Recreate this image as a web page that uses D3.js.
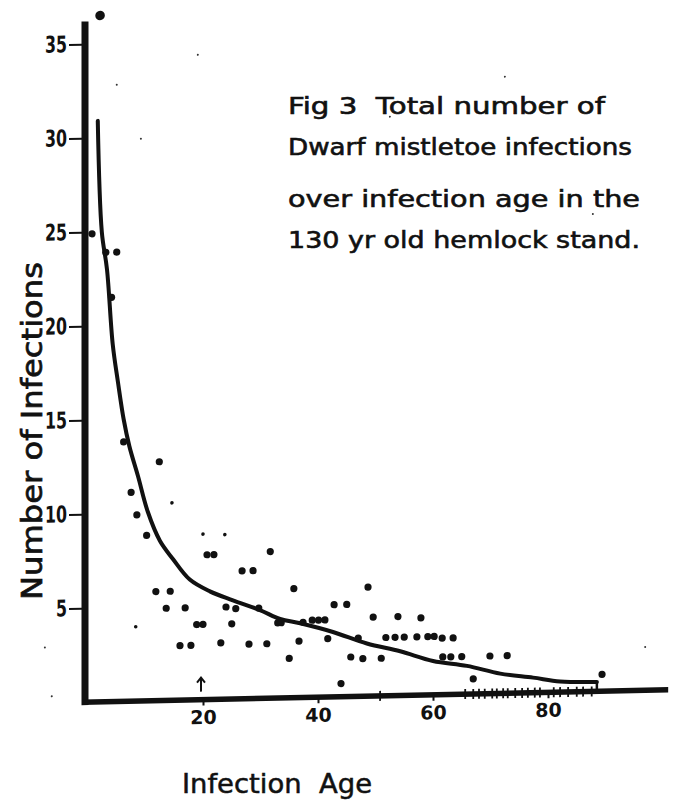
<!DOCTYPE html>
<html>
<head>
<meta charset="utf-8">
<script src="https://cdnjs.cloudflare.com/ajax/libs/d3/7.8.5/d3.min.js"></script>
<style>
body { margin: 0; background: #fff; }
text { font-family: "DejaVu Sans", sans-serif; fill: #111; }
</style>
</head>
<body>
<div id="chart"></div>
<script>
// values (age in years, number of infections)
var dotAges = [2.1, 0.7, 3.1, 5.0, 4.1, 6.2, 12.4, 7.5, 8.5, 10.2, 20.7, 21.9, 26.8, 28.7, 31.7,
    11.8, 14.3, 13.6, 16.9, 18.9, 20.0, 16.0, 17.9, 23.1, 24.0, 25.7, 25.0, 28.0, 31.1, 29.7,
    35.8, 33.0, 33.6, 36.7, 35.0, 37.4, 39.0, 40.1, 41.2, 41.7, 42.8, 45.0, 45.7, 44.0, 48.7,
    47.0, 49.6, 53.9, 57.9, 51.8, 53.4, 55.0, 57.2, 59.1, 60.2, 61.6, 63.5, 47.8, 51.0, 61.7,
    63.1, 65.0, 69.9, 72.9, 67.0, 89.4];
var dotCounts = [36.5, 24.9, 23.9, 23.9, 21.5, 13.8, 12.7, 11.1, 9.9, 8.8, 7.7, 7.7, 6.8, 6.8, 7.8,
    5.8, 5.8, 4.9, 4.9, 4.0, 4.0, 2.9, 2.9, 3.0, 4.9, 4.8, 4.0, 2.9, 2.9, 4.8,
    5.8, 4.0, 4.0, 3.0, 2.1, 4.0, 4.1, 4.1, 4.1, 3.1, 4.9, 4.9, 2.1, 0.7, 5.8,
    3.1, 4.2, 4.2, 4.1, 3.1, 3.1, 3.1, 3.1, 3.1, 3.1, 3.0, 3.0, 2.0, 2.0, 2.0,
    2.0, 2.0, 2.0, 2.0, 0.8, 0.9];

// faint, smaller dots
var smallAges = [8.3, 14.6, 20.0, 23.8];
var smallCounts = [3.95, 10.5, 8.8, 8.75];

// specks on the sheet
var speckAges = [5.0, 9.2, 19.1, 52.5, 72.5, 87.8, 96.9, -7.5, -6.3];
var speckCounts = [32.8, 29.9, 34.3, 30.8, 32.8, 25.4, 2.3, 2.95, 0.34];

// fitted curve
var curveAges = [1.7, 2.4, 3.3, 4.3, 5.2, 6.2, 7.2, 8.7, 10.4, 12.5, 14.8, 17.7, 21.2, 25.2,
    29.9, 33.4, 36.9, 42.6, 48.5, 54.3, 60, 65.9, 71.7, 77.4, 82.1, 88.5];
var curveCounts = [30.9, 25.0, 23.0, 19.0, 17.0, 15.0, 13.55, 11.95, 10.05, 8.5, 7.5, 6.4, 5.75, 5.25,
    4.7, 4.2, 3.95, 3.45, 2.8, 2.35, 1.8, 1.5, 1.05, 0.8, 0.57, 0.5];

// little crosses drawn on the age axis
var axisMarkAges = [50.8, 65.6, 67, 68, 69, 70.3, 71.1, 72.2, 73, 74.3, 75.5, 76.5, 77.7, 78.6,
    81, 82.1, 83.5, 85, 86.1, 87.6];

var xTicks = [20, 40, 60, 80];
var yTicks = [5, 10, 15, 20, 25, 30, 35];
var arrowAge = 20;

var titleLines = ["Fig 3  Total number of", "Dwarf mistletoe infections",
    "over infection age in the", "130 yr old hemlock stand."];

var width = 678,
    height = 808;

var svg = d3.select("#chart")
    .append("svg")
    .attr("width", width)
    .attr("height", height);

var x = d3.scaleLinear().domain([0, 100]).range([88, 663]);
var y = d3.scaleLinear().domain([0, 35]).range([702, 44]);

// the sheet was scanned a bit crooked, the age axis climbs to the right
var plot = svg.append("g")
    .attr("transform", "translate(" + x(0) + "," + y(0) + ") skewY(-1.2) translate(" + (-x(0)) + "," + (-y(0)) + ")");

// y axis
plot.append("line")
    .attr("x1", x(0) - 3).attr("x2", x(0) - 3)
    .attr("y1", y(36.2)).attr("y2", y(0) + 3)
    .attr("stroke", "#111")
    .attr("stroke-width", 7);

var yAxis = plot.append("g")
    .attr("transform", "translate(" + (x(0) - 6) + ",0)")
    .call(d3.axisLeft(y).tickValues(yTicks).tickSize(13).tickPadding(2));
yAxis.select(".domain").remove();
yAxis.selectAll("line").attr("stroke", "#111").attr("stroke-width", 2);
// hand lettered digits are tall and narrow
yAxis.selectAll("text")
    .style("font-family", "DejaVu Sans")
    .style("font-size", "23px")
    .style("font-weight", "bold")
    .attr("textLength", function (d) { return String(d).length * 11; })
    .attr("lengthAdjust", "spacingAndGlyphs")
    .attr("fill", "#111");

// x axis
plot.append("line")
    .attr("x1", x(0) - 6).attr("x2", x(100.9))
    .attr("y1", y(0)).attr("y2", y(0))
    .attr("stroke", "#111")
    .attr("stroke-width", 5.5);

var xAxis = plot.append("g")
    .attr("transform", "translate(0," + (y(0) - 1) + ")")
    .call(d3.axisBottom(x).tickValues(xTicks).tickSize(7).tickPadding(5));
xAxis.select(".domain").remove();
xAxis.selectAll("line").attr("stroke", "#111").attr("stroke-width", 2);
xAxis.selectAll("text")
    .style("font-family", "DejaVu Sans")
    .style("font-size", "19px")
    .style("font-weight", "bold")
    .attr("fill", "#111");

plot.append("g")
    .selectAll("line")
    .data(axisMarkAges)
    .enter()
    .append("line")
    .attr("x1", function (d) { return x(d); })
    .attr("x2", function (d) { return x(d); })
    .attr("y1", y(0) - 5)
    .attr("y2", y(0) + 5)
    .attr("stroke", "#111")
    .attr("stroke-width", 1.8);

// arrow pointing at age 20
var ax = x(arrowAge) - 2;
plot.append("path")
    .attr("d", "M" + ax + "," + (y(0) - 8) + "V" + (y(0) - 22) +
        "M" + (ax - 4) + "," + (y(0) - 17) + "L" + ax + "," + (y(0) - 22) + "L" + (ax + 4) + "," + (y(0) - 17))
    .attr("fill", "none")
    .attr("stroke", "#111")
    .attr("stroke-width", 2);

// fitted curve
var curveData = curveAges.map(function (d, i) { return [d, curveCounts[i]]; });
var line = d3.line()
    .x(function (d) { return x(d[0]); })
    .y(function (d) { return y(d[1]); })
    .curve(d3.curveCatmullRom.alpha(0.5));

plot.append("path")
    .datum(curveData)
    .attr("d", line)
    .attr("fill", "none")
    .attr("stroke", "#111")
    .attr("stroke-width", 4)
    .attr("stroke-linecap", "round");

// end of the curve drops onto the axis
var last = curveData[curveData.length - 1];
plot.append("path")
    .attr("d", "M" + x(last[0]) + "," + y(last[1]) + "V" + y(0))
    .attr("stroke", "#111")
    .attr("stroke-width", 2.5);

// points
var dots = dotAges.map(function (d, i) { return { age: d, count: dotCounts[i] }; });
plot.append("g")
    .selectAll("circle")
    .data(dots)
    .enter()
    .append("circle")
    .attr("cx", function (d) { return x(d.age); })
    .attr("cy", function (d) { return y(d.count); })
    .attr("r", function (d) { return d.count > 35 ? 4.8 : 3.6; })
    .attr("fill", "#111");

var small = smallAges.map(function (d, i) { return { age: d, count: smallCounts[i] }; });
plot.append("g")
    .selectAll("circle")
    .data(small)
    .enter()
    .append("circle")
    .attr("cx", function (d) { return x(d.age); })
    .attr("cy", function (d) { return y(d.count); })
    .attr("r", 1.8)
    .attr("fill", "#111");

var specks = speckAges.map(function (d, i) { return { age: d, count: speckCounts[i] }; });
plot.append("g")
    .selectAll("circle")
    .data(specks)
    .enter()
    .append("circle")
    .attr("cx", function (d) { return x(d.age); })
    .attr("cy", function (d) { return y(d.count); })
    .attr("r", 1)
    .attr("fill", "#333");

// title block
var titleWidths = [317, 344, 352, 352];
var titleBase = [114, 155, 207, 248];
svg.append("g")
    .selectAll("text")
    .data(titleLines)
    .enter()
    .append("text")
    .attr("x", 288)
    .attr("y", function (d, i) { return titleBase[i]; })
    .attr("textLength", function (d, i) { return titleWidths[i]; })
    .attr("lengthAdjust", "spacingAndGlyphs")
    .attr("stroke", "#111")
    .attr("stroke-width", 0.6)
    .style("font-size", "23px")
    .style("white-space", "pre")
    .text(function (d) { return d; });

// axis titles
svg.append("text")
    .attr("transform", "translate(42,431) rotate(-90)")
    .attr("text-anchor", "middle")
    .attr("textLength", 338)
    .attr("lengthAdjust", "spacingAndGlyphs")
    .attr("stroke", "#111")
    .attr("stroke-width", 0.7)
    .style("font-size", "28px")
    .text("Number of Infections");

svg.append("text")
    .attr("x", 182)
    .attr("y", 793)
    .attr("textLength", 190)
    .attr("lengthAdjust", "spacingAndGlyphs")
    .attr("stroke", "#111")
    .attr("stroke-width", 0.5)
    .style("font-size", "26px")
    .style("white-space", "pre")
    .text("Infection  Age");
</script>
</body>
</html>
